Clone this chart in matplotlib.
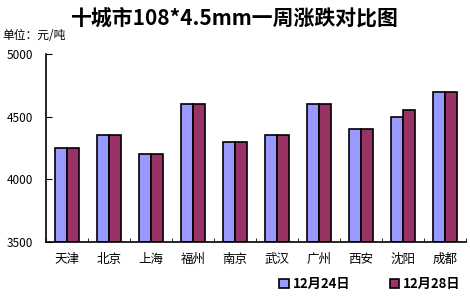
import matplotlib.pyplot as plt
import numpy as np

plt.rcParams['font.family'] = ['Noto Sans CJK SC', 'DejaVu Sans']

cities = ["天津", "北京", "上海", "福州", "南京", "武汉", "广州", "西安", "沈阳", "成都"]
dec24 = [4250, 4350, 4200, 4600, 4300, 4350, 4600, 4400, 4500, 4700]
dec28 = [4250, 4350, 4200, 4600, 4300, 4350, 4600, 4400, 4550, 4700]
series_labels = ["12月24日", "12月28日"]

fig = plt.figure(figsize=(4.7, 3.01), dpi=100)
ax = fig.add_axes([46 / 470, 1 - 242 / 301, 420 / 470, 188 / 301])

x = np.arange(len(cities))
w = 0.28
b1 = ax.bar(x - w / 2, np.array(dec24) - 3500, w, bottom=3500, color="#9999FF",
            edgecolor="black", linewidth=1.2, label=series_labels[0])
b2 = ax.bar(x + w / 2, np.array(dec28) - 3500, w, bottom=3500, color="#993366",
            edgecolor="black", linewidth=1.2, label=series_labels[1])

ax.set_xlim(-0.5, len(cities) - 0.5)
ax.set_ylim(3500, 5000)
ax.set_yticks([3500, 4000, 4500, 5000])
ax.tick_params(axis="y", direction="in", length=4, labelsize=8.5, pad=9)
ax.set_xticks(x)
ax.set_xticklabels(cities, fontsize=9)
ax.tick_params(axis="x", length=0, pad=8)
ax.set_xticks(np.arange(len(cities) + 1) - 0.5, minor=True)
ax.tick_params(axis="x", which="minor", direction="in", length=3)
for s in ["top", "right"]:
    ax.spines[s].set_visible(False)
ax.spines["left"].set_linewidth(1.2)
ax.spines["bottom"].set_linewidth(1.2)

fig.text(0.5, 0.94, "十城市108*4.5mm一周涨跌对比图", ha="center", va="center",
         fontsize=15, fontweight="bold")
fig.text(0.005, 0.883, "单位：元/吨", ha="left", va="center", fontsize=8.5)

fig.legend(handles=[b1, b2], loc="center", bbox_to_anchor=(0.787, 0.055), ncol=2,
           frameon=False, prop={"weight": "bold", "size": 9.5},
           handlelength=0.7, handleheight=0.7, columnspacing=3.0, handletextpad=0.3)

fig.savefig("out.png", dpi=100)
